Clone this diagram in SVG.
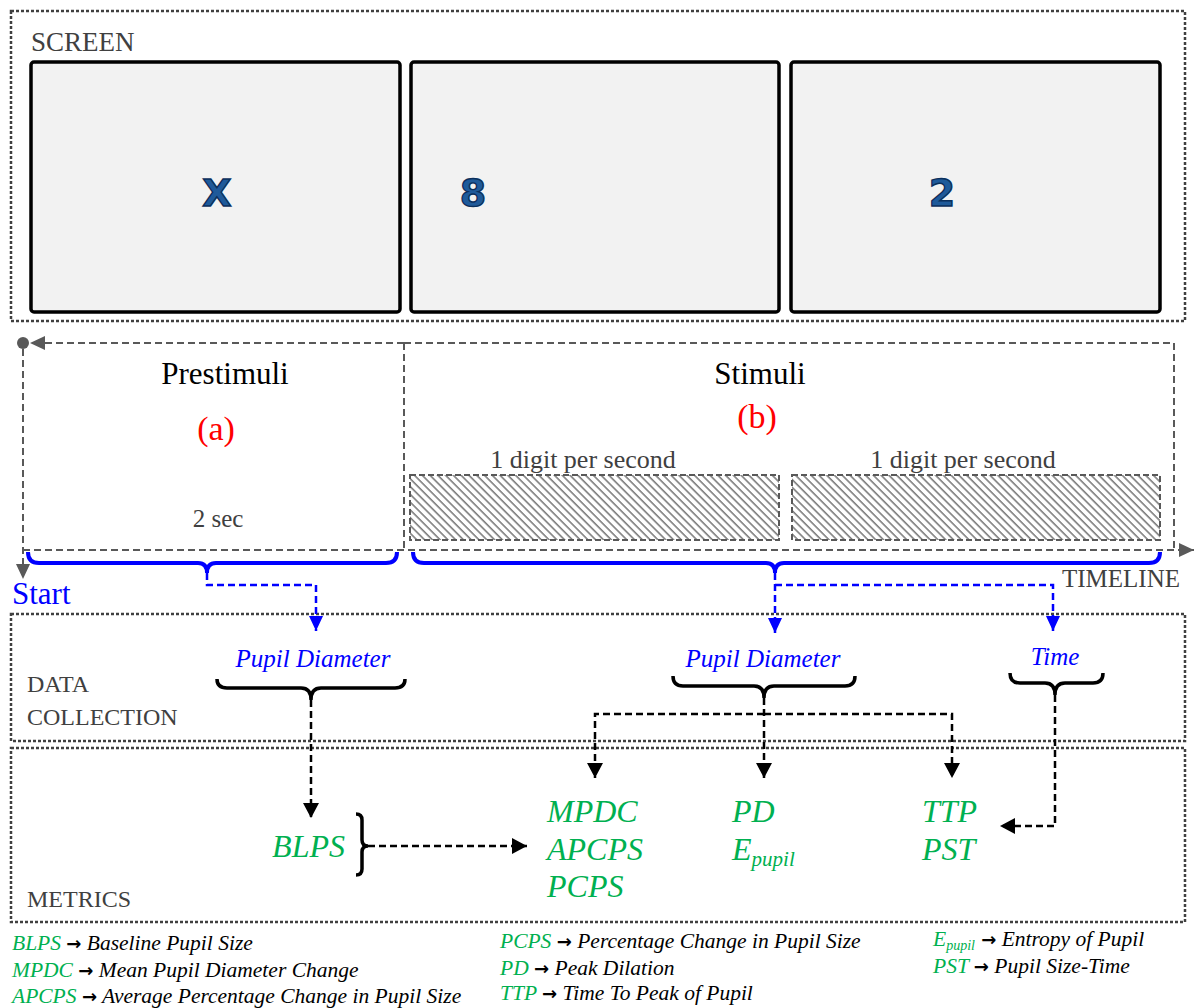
<svg xmlns="http://www.w3.org/2000/svg" width="1195" height="1008" viewBox="0 0 1195 1008">
<style>
.serif{font-family:"Liberation Serif","Times New Roman",serif}
.gray{fill:#404040}
.dotbox{fill:none;stroke:#404040;stroke-width:2.5;stroke-dasharray:3 2}
.tl{fill:none;stroke:#595959;stroke-width:2;stroke-dasharray:7 4}
.scr{fill:#f2f2f2;stroke:#000;stroke-width:3.5}
.digit{font-family:"DejaVu Sans","Liberation Sans",sans-serif;font-weight:bold;font-size:38px;fill:#1f5a9a;stroke:#0b2f5c;stroke-width:1.4;text-anchor:middle}
.bbrace{fill:none;stroke:#0000ff;stroke-width:4}
.kbrace{fill:none;stroke:#000;stroke-width:3.5}
.bdash{fill:none;stroke:#0000ff;stroke-width:2.5;stroke-dasharray:7 4}
.kdash{fill:none;stroke:#000;stroke-width:2.5;stroke-dasharray:7 4}
.blue{fill:#0000ff}
.green{fill:#00b050}
.it{font-style:italic}
.metric{font-family:"Liberation Serif","Times New Roman",serif;font-style:italic;font-size:32px;fill:#00b050}
.leg{font-family:"Liberation Serif","Times New Roman",serif;font-style:italic;font-size:21.5px}
.arr{font-family:"DejaVu Sans",sans-serif;font-style:normal;font-weight:bold;font-size:18px;fill:#000}
.hatch{fill:url(#hatch);stroke:#595959;stroke-width:2;stroke-dasharray:6 3}
</style>
<defs>
<pattern id="hatch" patternUnits="userSpaceOnUse" width="5.5" height="5.5" patternTransform="rotate(-45)">
<rect width="5.5" height="5.5" fill="#fff"/>
<line x1="1" y1="0" x2="1" y2="5.5" stroke="#404040" stroke-width="1.1"/>
</pattern>
<marker id="mg" markerUnits="userSpaceOnUse" markerWidth="16" markerHeight="14" refX="15" refY="7" orient="auto">
<path d="M0,0 L15,7 L0,14 Z" fill="#595959"/>
</marker>
<marker id="mb" markerUnits="userSpaceOnUse" markerWidth="16" markerHeight="14" refX="15" refY="7" orient="auto">
<path d="M0,0 L15,7 L0,14 Z" fill="#0000ff"/>
</marker>
<marker id="mk" markerUnits="userSpaceOnUse" markerWidth="16" markerHeight="16" refX="15" refY="8" orient="auto">
<path d="M0,0 L15,8 L0,16 Z" fill="#000"/>
</marker>
</defs>

<g id="screen-frame">
<rect class="dotbox" x="11" y="11" width="1174" height="310"/>
<text class="serif gray" x="31" y="51" font-size="27">SCREEN</text>
</g>
<g id="screen-1"><rect class="scr" x="31" y="62" width="369" height="250" rx="3"/><text class="digit" x="217" y="206">X</text></g>
<g id="screen-2"><rect class="scr" x="411" y="62" width="368" height="250" rx="3"/><text class="digit" x="473" y="206">8</text></g>
<g id="screen-3"><rect class="scr" x="791" y="62" width="369" height="250" rx="3"/><text class="digit" x="942" y="206">2</text></g>

<g id="timeline">
<circle cx="23" cy="343" r="6" fill="#595959"/>
<text class="serif" x="225" y="384" font-size="31" text-anchor="middle">Prestimuli</text>
<text class="serif" x="216" y="440" font-size="34" text-anchor="middle" fill="#ff0000">(a)</text>
<text class="serif gray" x="218" y="527" font-size="25" text-anchor="middle">2 sec</text>
<text class="serif" x="760" y="384" font-size="31" text-anchor="middle">Stimuli</text>
<text class="serif" x="757" y="428" font-size="34" text-anchor="middle" fill="#ff0000">(b)</text>
<text class="serif gray" x="583" y="468" font-size="26" text-anchor="middle">1 digit per second</text>
<text class="serif gray" x="963" y="468" font-size="26" text-anchor="middle">1 digit per second</text>
<text class="serif blue" x="12" y="604" font-size="31">Start</text>
<text class="serif gray" x="1062" y="587" font-size="25">TIMELINE</text>
</g>
<g id="digit-slot-1"><rect class="hatch" x="410" y="475" width="369" height="65"/></g>
<g id="digit-slot-2"><rect class="hatch" x="792" y="475" width="368" height="65"/></g>

<g id="data-collection">
<rect class="dotbox" x="11" y="614" width="1174" height="127"/>
<text class="serif gray" x="27" y="692" font-size="24">DATA</text>
<text class="serif gray" x="27" y="725" font-size="24">COLLECTION</text>
</g>
<g id="pd-pre"><text class="serif it blue" x="313" y="667" font-size="25" text-anchor="middle">Pupil Diameter</text>
<path class="kbrace" d="M217,679 Q217,688 227,688 L301,688 Q311,688 311,700 Q311,688 321,688 L395,688 Q405,688 405,679"/></g>
<g id="pd-stim"><text class="serif it blue" x="763" y="667" font-size="25" text-anchor="middle">Pupil Diameter</text>
<path class="kbrace" d="M673,676 Q673,686 683,686 L754,686 Q764,686 764,698 Q764,686 774,686 L845,686 Q855,686 855,676"/></g>
<g id="time"><text class="serif it blue" x="1055" y="665" font-size="25" text-anchor="middle">Time</text>
<path class="kbrace" d="M1010,673 Q1010,683 1020,683 L1045,683 Q1055,683 1055,695 Q1055,683 1065,683 L1093,683 Q1103,683 1103,673"/></g>

<g id="metrics-frame">
<rect class="dotbox" x="11" y="748" width="1174" height="174"/>
<text class="serif gray" x="27" y="907" font-size="24">METRICS</text>
</g>
<g id="blps"><text class="metric" x="345" y="857" text-anchor="end">BLPS</text>
<path class="kbrace" d="M356,814 Q362,814 362,820 L362,840 Q362,846 368,846 Q362,846 362,852 L362,869 Q362,875 356,875"/></g>
<g id="mpdc-group">
<text class="metric" x="547" y="822">MPDC</text>
<text class="metric" x="547" y="860">APCPS</text>
<text class="metric" x="547" y="897">PCPS</text>
</g>
<g id="pd-group">
<text class="metric" x="732" y="822">PD</text>
<text class="metric" x="732" y="860">E<tspan font-size="21" dy="6">pupil</tspan></text>
</g>
<g id="ttp-group">
<text class="metric" x="922" y="822">TTP</text>
<text class="metric" x="922" y="860">PST</text>
</g>

<g id="connectors">
<line class="tl" x1="404" y1="343" x2="30" y2="343" marker-end="url(#mg)"/>
<line class="tl" x1="404" y1="343" x2="1174" y2="343"/>
<line class="tl" x1="1174" y1="343" x2="1174" y2="550"/>
<line class="tl" x1="404" y1="343" x2="404" y2="550"/>
<line class="tl" x1="23" y1="550" x2="1194" y2="550" marker-end="url(#mg)"/>
<line class="tl" x1="23" y1="349" x2="23" y2="579" marker-end="url(#mg)"/>
<path class="bbrace" d="M28,552 Q28,563 39,563 L198,563 Q207,563 207,573 Q207,563 216,563 L386,563 Q397,563 397,552"/>
<path class="bbrace" d="M413,552 Q413,563 424,563 L766,563 Q775,563 775,573 Q775,563 784,563 L1149,563 Q1160,563 1160,552"/>
<polyline class="bdash" points="207,573 207,585 316,585 316,631" marker-end="url(#mb)"/>
<line class="bdash" x1="775" y1="573" x2="775" y2="633" marker-end="url(#mb)"/>
<polyline class="bdash" points="775,585 1053,585 1053,631" marker-end="url(#mb)"/>
<line class="kdash" x1="311" y1="700" x2="311" y2="818" marker-end="url(#mk)"/>
<line class="kdash" x1="764" y1="698" x2="764" y2="778" marker-end="url(#mk)"/>
<polyline class="kdash" points="764,714 595,714 595,778" marker-end="url(#mk)"/>
<polyline class="kdash" points="764,714 952,714 952,778" marker-end="url(#mk)"/>
<polyline class="kdash" points="1055,695 1055,826 1000,826" marker-end="url(#mk)"/>
<line class="kdash" x1="368" y1="846" x2="527" y2="846" marker-end="url(#mk)"/>
</g>

<g id="legend">
<text class="leg" x="12" y="950"><tspan class="green">BLPS </tspan><tspan class="arr">→</tspan> Baseline Pupil Size</text>
<text class="leg" x="12" y="977"><tspan class="green">MPDC </tspan><tspan class="arr">→</tspan> Mean Pupil Diameter Change</text>
<text class="leg" x="12" y="1003"><tspan class="green">APCPS </tspan><tspan class="arr">→</tspan> Average Percentage Change in Pupil Size</text>
<text class="leg" x="500" y="948"><tspan class="green">PCPS </tspan><tspan class="arr">→</tspan> Percentage Change in Pupil Size</text>
<text class="leg" x="500" y="975"><tspan class="green">PD </tspan><tspan class="arr">→</tspan> Peak Dilation</text>
<text class="leg" x="500" y="1000"><tspan class="green">TTP </tspan><tspan class="arr">→</tspan> Time To Peak of Pupil</text>
<text class="leg" x="933" y="946"><tspan class="green">E<tspan font-size="14" dy="4">pupil</tspan></tspan><tspan class="arr" dy="-4"> →</tspan> Entropy of Pupil</text>
<text class="leg" x="933" y="973"><tspan class="green">PST </tspan><tspan class="arr">→</tspan> Pupil Size-Time</text>
</g>
</svg>
